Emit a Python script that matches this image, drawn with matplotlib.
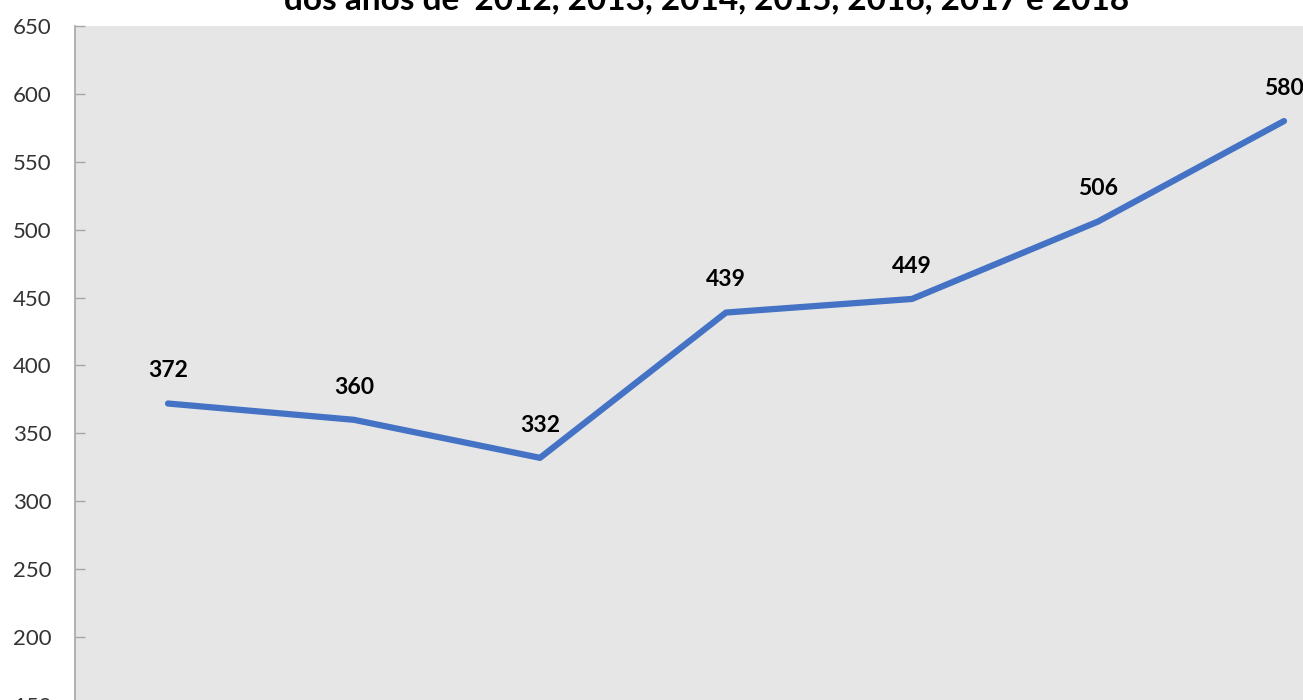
import matplotlib.pyplot as plt

# dados
anos = ["2012", "2013", "2014", "2015", "2016", "2017", "2018"]
valores = [372, 360, 332, 439, 449, 506, 580]
y_ticks = [150, 200, 250, 300, 350, 400, 450, 500, 550, 600, 650]
titulo = "dos anos de '2012, 2013, 2014, 2015, 2016, 2017 e 2018"

plt.rcParams["font.family"] = ["Lato", "DejaVu Sans"]

W, H = 1303, 700
fig = plt.figure(figsize=(W / 100, H / 100), dpi=100)

# a área do gráfico passa das bordas da imagem (recorte)
left_px, top_px = 75, 26
step_px = 186
ax_w_px = step_px * len(anos)
ax_h_px = (705 - 26)
ax = fig.add_axes([left_px / W, 1 - (top_px + ax_h_px) / H, ax_w_px / W, ax_h_px / H])
ax.set_facecolor("#E7E6E6")

x = list(range(len(anos)))
ax.plot(x, valores, color="#4472C4", lw=4.5, solid_capstyle="round", solid_joinstyle="round")

for xi, v in zip(x, valores):
    ax.annotate(str(v), (xi, v), xytext=(0, 16), textcoords="offset points",
                ha="center", va="bottom", fontsize=16.5, fontweight="bold", color="black")

ax.set_xlim(-0.5, len(anos) - 0.5)
ax.set_ylim(150, 650)
ax.set_yticks(y_ticks)
ax.set_xticks([])

for s in ["top", "right", "bottom"]:
    ax.spines[s].set_visible(False)
ax.spines["left"].set_color("#A6A6A6")
ax.spines["left"].set_linewidth(1.2)
ax.tick_params(axis="y", direction="in", length=7, width=1, color="#A6A6A6",
               labelsize=16, labelcolor="#333333", pad=17)

fig.text(707 / W, 1 - 9 / H, titulo, ha="center", va="baseline",
         fontsize=24, fontweight="bold", color="black")

fig.savefig("out.png", dpi=100)
